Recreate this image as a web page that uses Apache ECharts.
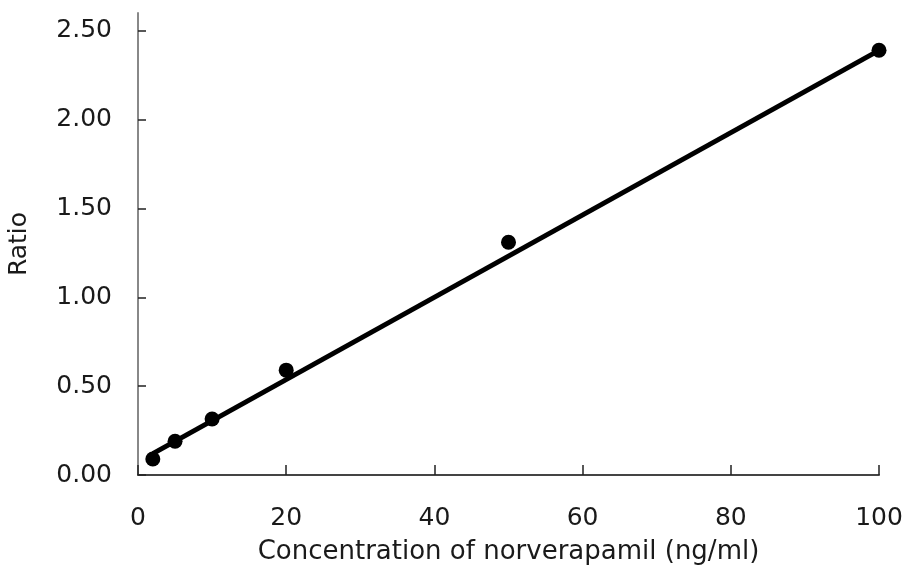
<!DOCTYPE html>
<html>
<head>
<meta charset="utf-8">
<script src="https://cdn.jsdelivr.net/npm/echarts@6/dist/echarts.min.js"></script>
<style>
  html, body { margin: 0; padding: 0; background: #fff; }
  #chart { width: 908px; height: 580px; }
</style>
</head>
<body>
<div id="chart"></div>
<script>
  // measured points
  const concentrations = [2, 5, 10, 20, 50, 100];
  const ratios = [0.09, 0.19, 0.315, 0.59, 1.31, 2.39];
  // regression line ends
  const fitX = [2, 100];
  const fitY = [0.12, 2.39];
  const yTicks = [0, 0.5, 1, 1.5, 2, 2.5];

  const font = '"DejaVu Sans", sans-serif';

  echarts.init(document.getElementById('chart')).setOption({
    animation: false,
    grid: { left: 138, right: 29, top: 13, bottom: 105, outerBoundsMode: 'none', containLabel: false },
    xAxis: {
      type: 'value',
      min: 0,
      max: 100,
      interval: 20,
      name: 'Concentration of norverapamil (ng/ml)',
      nameLocation: 'middle',
      nameGap: 64,
      nameTextStyle: { fontSize: 26, color: '#1a1a1a', fontFamily: font },
      axisLine: { lineStyle: { color: '#444', width: 2 } },
      axisTick: { inside: true, length: 10, lineStyle: { color: '#222', width: 1.5 } },
      axisLabel: { fontSize: 25, color: '#1a1a1a', fontFamily: font, margin: 31 },
      splitLine: { show: false }
    },
    yAxis: {
      type: 'value',
      min: 0,
      max: 2.6,
      name: 'Ratio',
      nameLocation: 'middle',
      nameGap: 106,
      nameTextStyle: { fontSize: 25, color: '#1a1a1a', fontFamily: font },
      axisLine: { show: true, lineStyle: { color: '#888', width: 2 } },
      axisTick: { show: true, inside: true, length: 8, customValues: yTicks, lineStyle: { color: '#222', width: 1.5 } },
      axisLabel: {
        fontSize: 25, color: '#1a1a1a', fontFamily: font, margin: 26,
        customValues: yTicks,
        formatter: v => v.toFixed(2)
      },
      splitLine: { show: false }
    },
    series: [
      {
        type: 'line',
        data: fitX.map((x, i) => [x, fitY[i]]),
        showSymbol: false,
        lineStyle: { color: '#000', width: 5 },
        z: 2
      },
      {
        type: 'scatter',
        data: concentrations.map((x, i) => [x, ratios[i]]),
        symbolSize: 15,
        itemStyle: { color: '#000', opacity: 1 },
        z: 3
      }
    ]
  });
</script>
</body>
</html>
